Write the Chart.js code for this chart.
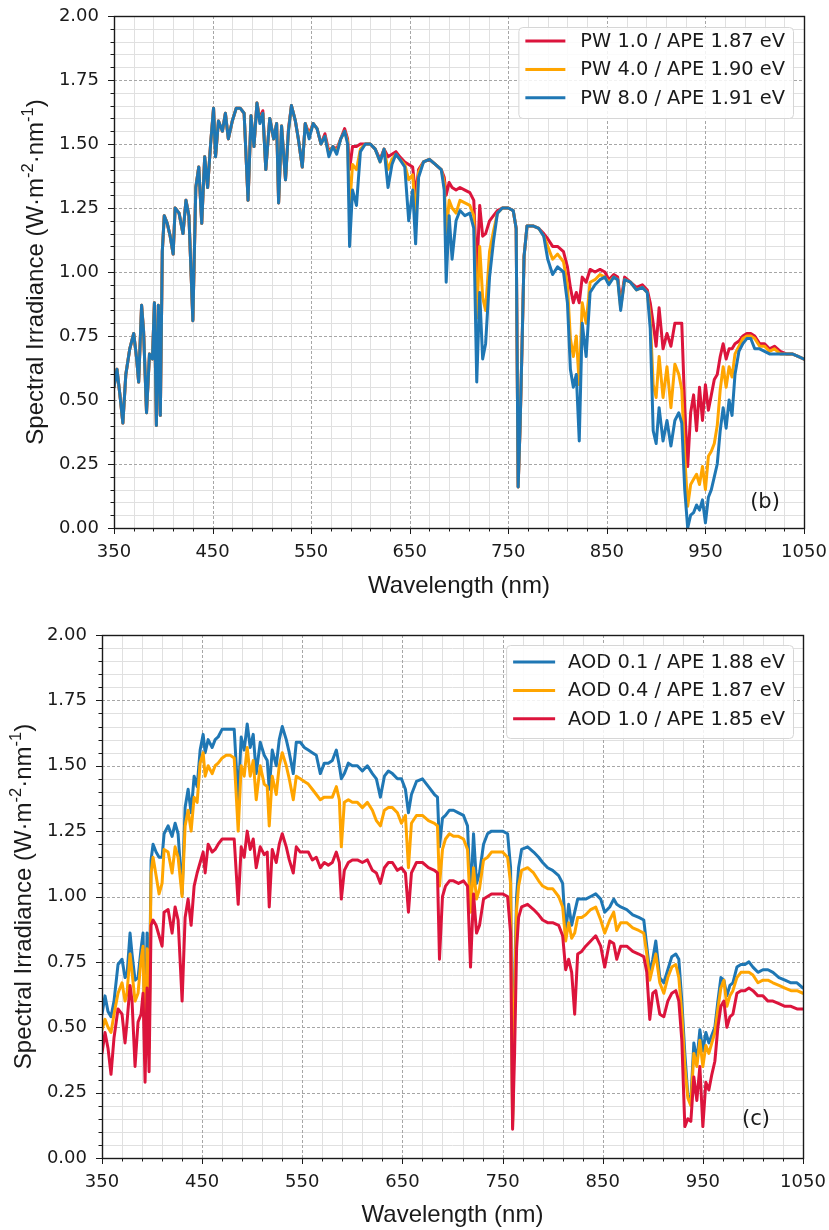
<!DOCTYPE html>
<html>
<head>
<meta charset="utf-8">
<title>Spectral irradiance under different PW and AOD</title>
<script src="https://cdn.jsdelivr.net/npm/chart.js@4.4.1/dist/chart.umd.min.js"></script>
<style>
  html, body { margin: 0; padding: 0; background: #ffffff; }
  body { width: 829px; height: 1230px; position: relative; overflow: hidden; }
  canvas { position: absolute; left: 0; }
  #pwChart { top: 0; }
  #aodChart { top: 615px; }
</style>
</head>
<body>
<canvas id="pwChart" width="829" height="615"></canvas>
<canvas id="aodChart" width="829" height="615"></canvas>
<script>
// Wavelength grid (nm), shared by every spectrum below
const wavelength = [
  350, 353, 356, 359, 362, 366, 370, 373, 375, 378,
  380, 383, 386, 389, 391, 393, 395, 397, 399, 401,
  404, 407, 410, 412, 416, 420, 423, 426, 430, 433,
  436, 439, 442, 445, 448, 451, 453, 456, 460, 463,
  466, 470, 474, 478, 482, 486, 489, 492, 495, 498,
  501, 504, 508, 512, 515, 517, 520, 524, 527, 530,
  534, 537, 541, 544, 548, 552, 556, 560, 564, 568,
  572, 576, 580, 584, 587, 589, 592, 596, 600, 605,
  610, 615, 620, 624, 628, 632, 636, 640, 645, 649,
  653, 656, 659, 664, 670, 676, 682, 685, 687, 690,
  693, 697, 701, 706, 711, 715, 718, 721, 724, 727,
  731, 735, 739, 744, 750, 755, 758, 760, 762, 764,
  766, 769, 775, 781, 786, 790, 795, 800, 806, 810,
  813, 816, 819, 822, 825, 829, 833, 838, 843, 848,
  852, 857, 861, 864, 868, 874, 880, 886, 891, 894,
  897, 900, 903, 907, 911, 915, 919, 923, 926, 929,
  932, 935, 938, 941, 944, 947, 950, 953, 956, 959,
  962, 965, 968, 971, 974, 977, 980, 984, 988, 992,
  996, 1000, 1005, 1010, 1015, 1020, 1026, 1032, 1038, 1044,
  1050
];

const xTicks = [350, 450, 550, 650, 750, 850, 950, 1050];
const yTicks = [0, 0.25, 0.5, 0.75, 1.0, 1.25, 1.5, 1.75, 2.0];

// (b) precipitable water series, W·m-2·nm-1
const pw1 = [
  0.55, 0.62, 0.52, 0.41, 0.60, 0.70, 0.76, 0.66, 0.57, 0.87,
  0.77, 0.45, 0.68, 0.66, 0.88, 0.40, 0.87, 0.44, 1.08, 1.22,
  1.19, 1.14, 1.07, 1.25, 1.23, 1.15, 1.28, 1.22, 0.81, 1.33,
  1.41, 1.19, 1.45, 1.33, 1.50, 1.64, 1.45, 1.59, 1.55, 1.62,
  1.52, 1.59, 1.64, 1.64, 1.62, 1.28, 1.61, 1.49, 1.66, 1.60,
  1.63, 1.40, 1.60, 1.52, 1.58, 1.27, 1.57, 1.36, 1.56, 1.65,
  1.59, 1.52, 1.41, 1.58, 1.54, 1.58, 1.56, 1.50, 1.54, 1.47,
  1.49, 1.48, 1.52, 1.56, 1.52, 1.40, 1.49, 1.49, 1.50, 1.50,
  1.50, 1.48, 1.44, 1.48, 1.45, 1.46, 1.47, 1.45, 1.43, 1.42,
  1.41, 1.30, 1.40, 1.43, 1.44, 1.42, 1.40, 1.37, 1.30, 1.35,
  1.33, 1.32, 1.33, 1.32, 1.31, 1.28, 0.99, 1.26, 1.14, 1.15,
  1.20, 1.22, 1.24, 1.25, 1.25, 1.24, 1.17, 0.16, 0.40, 0.72,
  1.06, 1.18, 1.18, 1.17, 1.15, 1.13, 1.10, 1.10, 1.08, 1.02,
  0.94, 0.88, 0.92, 0.88, 0.98, 0.96, 1.01, 1.00, 1.01, 1.00,
  0.97, 0.99, 0.98, 0.88, 0.98, 0.96, 0.94, 0.95, 0.93, 0.88,
  0.80, 0.71, 0.86, 0.70, 0.76, 0.71, 0.80, 0.80, 0.80, 0.47,
  0.24, 0.45, 0.52, 0.38, 0.55, 0.42, 0.56, 0.46, 0.52, 0.58,
  0.60, 0.67, 0.72, 0.66, 0.70, 0.70, 0.72, 0.73, 0.75, 0.76,
  0.76, 0.75, 0.72, 0.72, 0.70, 0.71, 0.69, 0.68, 0.68, 0.67,
  0.66
];
const pw4 = [
  0.55, 0.62, 0.52, 0.41, 0.60, 0.70, 0.76, 0.66, 0.57, 0.87,
  0.77, 0.45, 0.68, 0.66, 0.88, 0.40, 0.87, 0.44, 1.08, 1.22,
  1.19, 1.14, 1.07, 1.25, 1.23, 1.15, 1.28, 1.22, 0.81, 1.33,
  1.41, 1.19, 1.45, 1.33, 1.50, 1.64, 1.45, 1.59, 1.55, 1.62,
  1.52, 1.59, 1.64, 1.64, 1.62, 1.28, 1.61, 1.49, 1.66, 1.59,
  1.62, 1.40, 1.60, 1.52, 1.58, 1.27, 1.57, 1.36, 1.55, 1.65,
  1.59, 1.52, 1.41, 1.58, 1.53, 1.58, 1.56, 1.50, 1.53, 1.46,
  1.49, 1.47, 1.52, 1.55, 1.51, 1.25, 1.42, 1.40, 1.48, 1.50,
  1.50, 1.48, 1.43, 1.48, 1.40, 1.44, 1.46, 1.44, 1.42, 1.36,
  1.38, 1.22, 1.39, 1.43, 1.44, 1.42, 1.40, 1.35, 1.15, 1.28,
  1.25, 1.23, 1.28, 1.27, 1.26, 1.22, 0.82, 1.10, 0.90, 0.85,
  1.08, 1.16, 1.23, 1.25, 1.25, 1.24, 1.17, 0.16, 0.40, 0.72,
  1.06, 1.18, 1.18, 1.17, 1.14, 1.10, 1.05, 1.07, 1.04, 0.95,
  0.74, 0.67, 0.75, 0.56, 0.88, 0.80, 0.96, 0.97, 0.99, 0.98,
  0.96, 0.98, 0.97, 0.86, 0.97, 0.96, 0.93, 0.94, 0.92, 0.82,
  0.56, 0.51, 0.67, 0.51, 0.63, 0.47, 0.64, 0.60, 0.54, 0.28,
  0.085, 0.17, 0.19, 0.21, 0.17, 0.24, 0.15, 0.28, 0.30, 0.33,
  0.40, 0.54, 0.63, 0.55, 0.63, 0.59, 0.68, 0.71, 0.74, 0.75,
  0.75, 0.74, 0.71, 0.71, 0.69, 0.70, 0.68, 0.68, 0.68, 0.67,
  0.66
];
const pw8 = [
  0.55, 0.62, 0.52, 0.41, 0.60, 0.70, 0.76, 0.66, 0.57, 0.87,
  0.77, 0.45, 0.68, 0.66, 0.88, 0.40, 0.87, 0.44, 1.08, 1.22,
  1.19, 1.14, 1.07, 1.25, 1.23, 1.15, 1.28, 1.22, 0.81, 1.33,
  1.41, 1.19, 1.45, 1.33, 1.50, 1.64, 1.45, 1.59, 1.55, 1.62,
  1.52, 1.59, 1.64, 1.64, 1.62, 1.28, 1.61, 1.49, 1.66, 1.58,
  1.62, 1.40, 1.60, 1.52, 1.58, 1.27, 1.57, 1.36, 1.55, 1.65,
  1.59, 1.52, 1.41, 1.58, 1.52, 1.58, 1.56, 1.50, 1.53, 1.45,
  1.49, 1.46, 1.52, 1.55, 1.50, 1.10, 1.32, 1.26, 1.47, 1.50,
  1.50, 1.48, 1.43, 1.48, 1.33, 1.42, 1.46, 1.44, 1.41, 1.20,
  1.32, 1.11, 1.37, 1.43, 1.44, 1.42, 1.40, 1.32, 0.96, 1.22,
  1.05, 1.20, 1.24, 1.22, 1.23, 1.17, 0.57, 0.92, 0.66, 0.72,
  0.98, 1.12, 1.23, 1.25, 1.25, 1.24, 1.17, 0.16, 0.40, 0.72,
  1.06, 1.18, 1.18, 1.17, 1.14, 1.05, 0.99, 1.02, 1.00, 0.88,
  0.62, 0.55, 0.60, 0.34, 0.80, 0.67, 0.92, 0.95, 0.97, 0.98,
  0.95, 0.98, 0.97, 0.85, 0.97, 0.96, 0.93, 0.94, 0.92, 0.78,
  0.38, 0.33, 0.47, 0.34, 0.42, 0.32, 0.42, 0.45, 0.41, 0.15,
  0.00, 0.05, 0.06, 0.09, 0.07, 0.11, 0.02, 0.12, 0.15, 0.20,
  0.25, 0.38, 0.47, 0.39, 0.50, 0.44, 0.60, 0.69, 0.72, 0.74,
  0.74, 0.70, 0.70, 0.69, 0.68, 0.68, 0.68, 0.68, 0.68, 0.67,
  0.66
];

// (c) aerosol optical depth series, W·m-2·nm-1
const aod01 = [
  0.55, 0.62, 0.56, 0.54, 0.60, 0.74, 0.76, 0.69, 0.70, 0.86,
  0.78, 0.68, 0.69, 0.80, 0.86, 0.45, 0.86, 0.48, 1.14, 1.20,
  1.17, 1.15, 1.15, 1.24, 1.27, 1.23, 1.28, 1.24, 1.01, 1.34,
  1.41, 1.32, 1.46, 1.42, 1.56, 1.62, 1.55, 1.60, 1.57, 1.60,
  1.61, 1.64, 1.64, 1.64, 1.64, 1.37, 1.61, 1.56, 1.66, 1.57,
  1.62, 1.47, 1.59, 1.54, 1.52, 1.41, 1.56, 1.50, 1.60, 1.65,
  1.60, 1.55, 1.47, 1.59, 1.59, 1.57, 1.56, 1.55, 1.54, 1.47,
  1.51, 1.51, 1.52, 1.56, 1.50, 1.45, 1.47, 1.51, 1.50, 1.50,
  1.48, 1.50, 1.47, 1.45, 1.38, 1.46, 1.48, 1.47, 1.45, 1.45,
  1.41, 1.32, 1.39, 1.44, 1.45, 1.42, 1.39, 1.38, 1.19, 1.30,
  1.31, 1.33, 1.33, 1.32, 1.31, 1.27, 0.99, 1.24, 1.05, 1.09,
  1.20, 1.24, 1.25, 1.25, 1.25, 1.24, 1.11, 0.14, 0.68, 1.00,
  1.11, 1.18, 1.19, 1.17, 1.15, 1.13, 1.11, 1.10, 1.08, 1.05,
  0.86, 0.97, 0.89, 0.94, 0.99, 0.99, 0.99, 1.00, 1.01, 0.99,
  0.94, 0.96, 0.99, 0.97, 0.96, 0.95, 0.93, 0.92, 0.91, 0.81,
  0.71, 0.76, 0.83, 0.69, 0.67, 0.72, 0.77, 0.78, 0.76, 0.60,
  0.40, 0.24, 0.22, 0.44, 0.37, 0.49, 0.41, 0.48, 0.44, 0.47,
  0.50, 0.60, 0.69, 0.68, 0.62, 0.66, 0.67, 0.73, 0.74, 0.74,
  0.75, 0.73, 0.71, 0.72, 0.72, 0.71, 0.69, 0.68, 0.67, 0.67,
  0.65
];
const aod04 = [
  0.49, 0.53, 0.50, 0.48, 0.55, 0.63, 0.67, 0.60, 0.63, 0.78,
  0.71, 0.60, 0.63, 0.76, 0.81, 0.38, 0.80, 0.42, 1.09, 1.15,
  1.08, 1.01, 1.05, 1.18, 1.17, 1.09, 1.19, 1.15, 1.00, 1.27,
  1.33, 1.25, 1.38, 1.36, 1.51, 1.55, 1.46, 1.50, 1.47, 1.50,
  1.51, 1.53, 1.54, 1.54, 1.53, 1.25, 1.50, 1.46, 1.57, 1.46,
  1.52, 1.37, 1.50, 1.43, 1.42, 1.27, 1.46, 1.39, 1.50, 1.55,
  1.50, 1.45, 1.37, 1.46, 1.45, 1.44, 1.43, 1.41, 1.39, 1.37,
  1.38, 1.38, 1.38, 1.42, 1.37, 1.19, 1.36, 1.37, 1.36, 1.36,
  1.34, 1.36, 1.33, 1.29, 1.27, 1.33, 1.34, 1.34, 1.32, 1.28,
  1.31, 1.11, 1.28, 1.31, 1.31, 1.29, 1.28, 1.27, 1.04, 1.18,
  1.22, 1.24, 1.23, 1.23, 1.22, 1.18, 0.94, 1.11, 0.99, 1.03,
  1.14, 1.15, 1.17, 1.17, 1.17, 1.15, 1.05, 0.12, 0.62, 0.95,
  1.04, 1.10, 1.11, 1.09, 1.06, 1.04, 1.03, 1.03, 1.00, 0.96,
  0.83, 0.90, 0.84, 0.86, 0.92, 0.92, 0.93, 0.95, 0.96, 0.91,
  0.86, 0.91, 0.94, 0.87, 0.90, 0.90, 0.88, 0.87, 0.86, 0.78,
  0.68, 0.73, 0.78, 0.67, 0.63, 0.69, 0.73, 0.74, 0.69, 0.55,
  0.35, 0.23, 0.20, 0.40, 0.35, 0.45, 0.35, 0.43, 0.40, 0.44,
  0.48, 0.57, 0.65, 0.68, 0.58, 0.62, 0.64, 0.69, 0.71, 0.71,
  0.71, 0.70, 0.67, 0.68, 0.68, 0.67, 0.66, 0.65, 0.64, 0.64,
  0.63
];
const aod10 = [
  0.40, 0.48, 0.42, 0.32, 0.46, 0.57, 0.55, 0.44, 0.52, 0.66,
  0.60, 0.35, 0.52, 0.55, 0.63, 0.29, 0.65, 0.33, 0.89, 0.91,
  0.89, 0.85, 0.81, 0.94, 0.95, 0.86, 0.96, 0.91, 0.60, 0.92,
  0.99, 0.89, 1.04, 1.09, 1.13, 1.17, 1.09, 1.20, 1.17, 1.18,
  1.20, 1.22, 1.22, 1.22, 1.22, 0.97, 1.19, 1.15, 1.25, 1.18,
  1.22, 1.11, 1.19, 1.16, 1.17, 0.96, 1.18, 1.13, 1.20, 1.24,
  1.19, 1.14, 1.09, 1.19, 1.17, 1.17, 1.17, 1.14, 1.15, 1.11,
  1.13, 1.12, 1.13, 1.17, 1.13, 0.99, 1.10, 1.13, 1.14, 1.14,
  1.13, 1.14, 1.10, 1.09, 1.05, 1.11, 1.13, 1.13, 1.10, 1.11,
  1.09, 0.94, 1.09, 1.13, 1.13, 1.11, 1.10, 1.09, 0.76, 1.00,
  1.04, 1.06, 1.06, 1.05, 1.06, 1.04, 0.73, 1.01, 0.86, 0.89,
  0.99, 1.00, 1.01, 1.01, 1.01, 1.00, 0.86, 0.11, 0.40, 0.80,
  0.92, 0.96, 0.97, 0.95, 0.93, 0.91, 0.90, 0.90, 0.89, 0.85,
  0.72, 0.76, 0.71, 0.55, 0.78, 0.79, 0.81, 0.83, 0.85, 0.81,
  0.73, 0.83, 0.82, 0.76, 0.81, 0.81, 0.79, 0.78, 0.77, 0.71,
  0.53, 0.63, 0.64, 0.55, 0.54, 0.60, 0.63, 0.64, 0.60, 0.45,
  0.12, 0.15, 0.14, 0.31, 0.22, 0.35, 0.12, 0.29, 0.26, 0.32,
  0.37, 0.50, 0.58, 0.60, 0.50, 0.54, 0.55, 0.63, 0.64, 0.64,
  0.65, 0.64, 0.62, 0.62, 0.60, 0.60, 0.59, 0.58, 0.58, 0.57,
  0.57
];

const pwLabels = ['PW 1.0 / APE 1.87 eV', 'PW 4.0 / APE 1.90 eV', 'PW 8.0 / APE 1.91 eV'];
const aodLabels = ['AOD 0.1 / APE 1.88 eV', 'AOD 0.4 / APE 1.87 eV', 'AOD 1.0 / APE 1.85 eV'];

const CRIMSON = '#dc143c';
const ORANGE = '#ffa500';
const BLUE = '#1f77b4';

const TICK_FONT = { family: '"DejaVu Sans", sans-serif', size: 18 };
const TITLE_FAMILY = '"Liberation Sans", Arial, sans-serif';
const LEGEND_FONT = '19.4px "DejaVu Sans", sans-serif';

// Grid, frame, ticks, legend box, panel tag and y title
const axesDecor = {
  id: 'axesDecor',
  beforeDatasetsDraw(chart) {
    const { ctx, chartArea: a, scales: { x, y } } = chart;
    ctx.save();
    ctx.lineWidth = 1;
    // minor grid: every 20 nm and every 0.05
    ctx.strokeStyle = '#e0e0e0';
    ctx.setLineDash([]);
    ctx.beginPath();
    for (let i = 1; i < 35; i++) {
      if (i % 5 === 0) continue;
      const px = Math.round(x.getPixelForValue(350 + 20 * i)) + 0.5;
      ctx.moveTo(px, a.top); ctx.lineTo(px, a.bottom);
    }
    for (let j = 1; j < 40; j++) {
      if (j % 5 === 0) continue;
      const py = Math.round(y.getPixelForValue(j * 0.05)) + 0.5;
      ctx.moveTo(a.left, py); ctx.lineTo(a.right, py);
    }
    ctx.stroke();
    // major grid: dashed
    ctx.strokeStyle = '#a6a6a6';
    ctx.setLineDash([3, 2]);
    ctx.beginPath();
    xTicks.forEach(v => {
      const px = Math.round(x.getPixelForValue(v)) + 0.5;
      ctx.moveTo(px, a.top); ctx.lineTo(px, a.bottom);
    });
    yTicks.forEach(v => {
      const py = Math.round(y.getPixelForValue(v)) + 0.5;
      ctx.moveTo(a.left, py); ctx.lineTo(a.right, py);
    });
    ctx.stroke();
    ctx.restore();
  },
  afterDatasetsDraw(chart) {
    const { ctx, chartArea: a, scales: { x, y } } = chart;
    ctx.save();
    ctx.setLineDash([]);
    ctx.strokeStyle = '#1a1a1a';
    ctx.lineWidth = 1;
    ctx.beginPath();
    for (let i = 0; i <= 35; i++) {
      const px = Math.round(x.getPixelForValue(350 + 20 * i)) + 0.5;
      const len = i % 5 === 0 ? 6 : 3.5;
      ctx.moveTo(px, a.bottom); ctx.lineTo(px, a.bottom + len);
    }
    for (let j = 0; j <= 40; j++) {
      const py = Math.round(y.getPixelForValue(j * 0.05)) + 0.5;
      const len = j % 5 === 0 ? 6 : 3.5;
      ctx.moveTo(a.left, py); ctx.lineTo(a.left - len, py);
    }
    ctx.stroke();
    ctx.lineWidth = 1.4;
    ctx.strokeRect(Math.round(a.left) + 0.5, Math.round(a.top) + 0.5,
                   Math.round(a.right - a.left), Math.round(a.bottom - a.top));
    ctx.restore();
  },
  afterDraw(chart, args, opts) {
    const { ctx, chartArea: a } = chart;
    ctx.save();

    // legend
    const sets = chart.data.datasets;
    ctx.font = LEGEND_FONT;
    const textW = Math.max(...sets.map(d => ctx.measureText(d.label).width));
    const boxW = 62 + textW + 8;
    const boxH = opts.legendH;
    const bx = a.right - opts.legendInsetX - boxW;
    const by = a.top + opts.legendInsetY;
    ctx.beginPath();
    ctx.roundRect(bx + 0.5, by + 0.5, boxW, boxH, 4);
    ctx.fillStyle = 'rgba(255,255,255,0.85)';
    ctx.fill();
    ctx.strokeStyle = '#d6d6d6';
    ctx.lineWidth = 1;
    ctx.stroke();
    ctx.textBaseline = 'middle';
    ctx.textAlign = 'left';
    sets.forEach((d, i) => {
      const cy = by + opts.legendRow0 + i * 28.4;
      ctx.strokeStyle = d.borderColor;
      ctx.lineWidth = 3;
      ctx.beginPath();
      ctx.moveTo(bx + 7, cy); ctx.lineTo(bx + 7 + opts.legendLine, cy);
      ctx.stroke();
      ctx.fillStyle = '#1a1a1a';
      ctx.fillText(d.label, bx + 62, cy + 1);
    });

    // panel tag
    ctx.font = '21px "DejaVu Sans", sans-serif';
    ctx.textAlign = 'center';
    ctx.fillStyle = '#1a1a1a';
    ctx.fillText(opts.tag, a.right + opts.tagDX, a.bottom + opts.tagDY);

    // y-axis title with superscripts, rotated
    const parts = [
      ['Spectral Irradiance (W\u00B7m', false],
      ['-2', true],
      ['\u00B7nm', false],
      ['-1', true],
      [')', false]
    ];
    const mainFont = '24px ' + TITLE_FAMILY;
    const supFont = '16.5px ' + TITLE_FAMILY;
    let total = 0;
    const widths = parts.map(([t, sup]) => {
      ctx.font = sup ? supFont : mainFont;
      const w = ctx.measureText(t).width;
      total += w;
      return w;
    });
    const cy = (a.top + a.bottom) / 2;
    ctx.translate(opts.titleX, cy);
    ctx.rotate(-Math.PI / 2);
    ctx.textAlign = 'left';
    ctx.textBaseline = 'alphabetic';
    let tx = -total / 2;
    parts.forEach(([t, sup], k) => {
      ctx.font = sup ? supFont : mainFont;
      ctx.fillText(t, tx, sup ? -1 : 8.5);
      tx += widths[k];
    });
    ctx.restore();
  }
};

function series(values) {
  return wavelength.map((w, i) => ({ x: w, y: values[i] }));
}

function lineSet(label, values, color, order) {
  return {
    label,
    data: series(values),
    borderColor: color,
    backgroundColor: color,
    borderWidth: 3,
    pointRadius: 0,
    tension: 0,
    borderJoinStyle: 'round',
    borderCapStyle: 'round',
    fill: false,
    order
  };
}

// invisible tick marks used only to offset the tick labels from the axes
function spacerGrid(len) {
  return {
    display: true,
    drawOnChartArea: false,
    drawTicks: true,
    tickLength: len,
    tickColor: 'rgba(0,0,0,0)',
    color: 'rgba(0,0,0,0)'
  };
}

function makeOptions(layout, decor) {
  return {
    responsive: false,
    animation: false,
    devicePixelRatio: 1,
    events: [],
    layout: { padding: layout.padding },
    plugins: {
      legend: { display: false },
      tooltip: { enabled: false },
      axesDecor: decor
    },
    scales: {
      x: {
        type: 'linear',
        min: 350,
        max: 1050,
        afterBuildTicks: s => { s.ticks = xTicks.map(v => ({ value: v })); },
        afterFit: s => { s.height = layout.xHeight; },
        grid: spacerGrid(14),
        border: { display: false },
        ticks: {
          font: TICK_FONT,
          color: '#1a1a1a',
          padding: 0,
          maxRotation: 0,
          autoSkip: false,
          callback: v => String(v)
        },
        title: {
          display: true,
          text: 'Wavelength (nm)',
          font: { family: TITLE_FAMILY, size: 24 },
          color: '#1a1a1a',
          padding: { top: 0, bottom: layout.xTitlePad }
        }
      },
      y: {
        type: 'linear',
        min: 0,
        max: 2,
        afterBuildTicks: s => { s.ticks = yTicks.map(v => ({ value: v })); },
        afterFit: s => { s.width = layout.yWidth; },
        grid: spacerGrid(15),
        border: { display: false },
        ticks: {
          font: TICK_FONT,
          color: '#1a1a1a',
          padding: 0,
          callback: v => Number(v).toFixed(2)
        }
      }
    }
  };
}

new Chart(document.getElementById('pwChart'), {
  type: 'line',
  data: {
    datasets: [
      lineSet(pwLabels[0], pw1, CRIMSON, 2),
      lineSet(pwLabels[1], pw4, ORANGE, 1),
      lineSet(pwLabels[2], pw8, BLUE, 0)
    ]
  },
  options: makeOptions(
    { padding: { top: 16, right: 25, left: 0, bottom: 0 }, xHeight: 87, yWidth: 114, xTitlePad: 14 },
    { tag: '(b)', tagDX: -39, tagDY: -25, titleX: 34, legendInsetX: 11, legendInsetY: 11,
      legendH: 91, legendRow0: 14, legendLine: 40 }
  ),
  plugins: [axesDecor]
});

new Chart(document.getElementById('aodChart'), {
  type: 'line',
  data: {
    datasets: [
      lineSet(aodLabels[0], aod01, BLUE, 2),
      lineSet(aodLabels[1], aod04, ORANGE, 1),
      lineSet(aodLabels[2], aod10, CRIMSON, 0)
    ]
  },
  options: makeOptions(
    { padding: { top: 20, right: 26, left: 0, bottom: 0 }, xHeight: 72, yWidth: 102, xTitlePad: 0 },
    { tag: '(c)', tagDX: -47, tagDY: -38, titleX: 22, legendInsetX: 10, legendInsetY: 10,
      legendH: 93, legendRow0: 17, legendLine: 42 }
  ),
  plugins: [axesDecor]
});
</script>
</body>
</html>
